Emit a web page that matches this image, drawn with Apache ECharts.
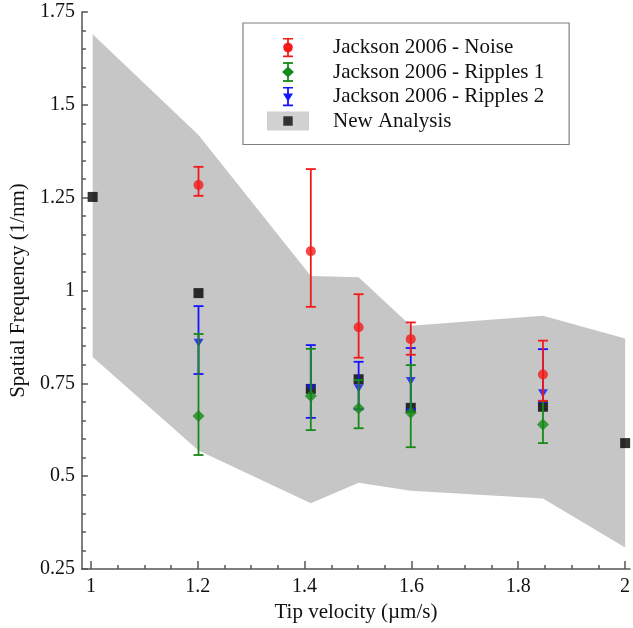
<!DOCTYPE html>
<html>
<head>
<meta charset="utf-8">
<script src="https://cdn.jsdelivr.net/npm/echarts@6/dist/echarts.min.js"></script>
<style>html,body{margin:0;padding:0;background:#fff}#c{width:633px;height:628px}</style>
</head>
<body>
<div id="c"></div>
<script>
// ---- data ----
var jacksonX   = [1.197, 1.406, 1.495, 1.592, 1.838];
var noiseY     = [1.284, 1.106, 0.901, 0.869, 0.774];
var noiseLow   = [1.255, 0.956, 0.819, 0.827, 0.703];
var noiseHigh  = [1.333, 1.327, 0.990, 0.914, 0.865];

var rip1Y      = [0.662, 0.716, 0.683, 0.671, 0.639];
var rip1Low    = [0.557, 0.624, 0.629, 0.578, 0.589];
var rip1High   = [0.883, 0.843, 0.759, 0.799, 0.702];

var rip2Y      = [0.859, 0.737, 0.737, 0.756, 0.723];
var rip2Low    = [0.775, 0.657, 0.680, 0.680, 0.700];
var rip2High   = [0.958, 0.853, 0.808, 0.845, 0.842];

var newX       = [1.0, 1.197, 1.406, 1.495, 1.592, 1.838, 1.991];
var newY       = [1.252, 0.993, 0.735, 0.761, 0.684, 0.687, 0.589];
var bandUpper  = [1.690, 1.419, 1.039, 1.036, 0.905, 0.932, 0.871];
var bandLower  = [0.821, 0.569, 0.427, 0.482, 0.461, 0.440, 0.308];

var seriesNames = ['Jackson 2006 - Noise', 'Jackson 2006 - Ripples 1', 'Jackson 2006 - Ripples 2', 'New Analysis'];
var xTitle = 'Tip velocity (\u00b5m/s)';
var yTitle = 'Spatial Frequency (1/nm)';

// ---- styling ----
var RED = '#f21a1a', GREEN = '#178a17', BLUE = '#1414ff', BAND = '#c6c6c6';
var FONT = '"Liberation Serif", "Times New Roman", serif';
var AX = '#555';

function pairs(xs, ys) { return xs.map(function (x, i) { return [x, ys[i]]; }); }
function triples(xs, lo, hi) { return xs.map(function (x, i) { return [x, lo[i], hi[i]]; }); }

function errRender(color) {
  return function (params, api) {
    var x = api.value(0);
    var top = api.coord([x, api.value(2)]);
    var bot = api.coord([x, api.value(1)]);
    var hw = 5;
    var st = { stroke: color, lineWidth: 1.8 };
    return {
      type: 'group',
      children: [
        { type: 'line', shape: { x1: top[0], y1: top[1], x2: bot[0], y2: bot[1] }, style: st },
        { type: 'line', shape: { x1: top[0] - hw, y1: top[1], x2: top[0] + hw, y2: top[1] }, style: st },
        { type: 'line', shape: { x1: bot[0] - hw, y1: bot[1], x2: bot[0] + hw, y2: bot[1] }, style: st }
      ]
    };
  };
}

// band polygon: drawn once (first item) from all upper then reversed lower points
function bandRender(params, api) {
  if (params.dataIndex !== 0) return null;
  var pts = [];
  for (var i = 0; i < newX.length; i++) pts.push(api.coord([newX[i], bandUpper[i]]));
  for (var j = newX.length - 1; j >= 0; j--) pts.push(api.coord([newX[j], bandLower[j]]));
  return { type: 'polygon', shape: { points: pts }, style: { fill: BAND } };
}

function svgIcon(inner) {
  var s = '<svg xmlns="http://www.w3.org/2000/svg" width="80" height="20" viewBox="0 0 80 20">' + inner + '</svg>';
  return 'image://data:image/svg+xml;charset=utf-8,' + encodeURIComponent(s);
}
function barSvg(color, marker) {
  return '<g stroke="' + color + '" stroke-width="1.8"><line x1="40" y1="1" x2="40" y2="19"/>' +
    '<line x1="35" y1="1" x2="45" y2="1"/><line x1="35" y1="19" x2="45" y2="19"/></g>' + marker;
}
var icons = [
  svgIcon(barSvg(RED, '<circle cx="40" cy="10" r="4.8" fill="' + RED + '"/>')),
  svgIcon(barSvg(GREEN, '<polygon points="40,4.5 46,10 40,15.5 34,10" fill="' + GREEN + '"/>')),
  svgIcon(barSvg(BLUE, '<polygon points="35,7 45,7 40,15" fill="' + BLUE + '"/>')),
  svgIcon('<rect x="19" y="0.5" width="42" height="19" fill="' + BAND + '"/><rect x="35.3" y="5.3" width="9.4" height="9.4" fill="#000"/>')
];

var chart = echarts.init(document.getElementById('c'), null, { renderer: 'canvas' });

var option = {
  animation: false,
  backgroundColor: '#fff',
  grid: [
    { left: 80, right: 3, top: 12, bottom: 59 },
    { left: 91, right: 3, top: 12, bottom: 59 }
  ],
  legend: {
    orient: 'vertical',
    left: 243, top: 23,
    padding: [14, 25, 13, 5],
    itemWidth: 80, itemHeight: 20, itemGap: 3.5,
    borderColor: '#808080', borderWidth: 1.2,
    backgroundColor: '#fff',
    selectedMode: false,
    textStyle: { fontFamily: FONT, fontSize: 21, color: '#111', lineHeight: 20 },
    data: seriesNames.map(function (n, i) { return { name: n, icon: icons[i] }; })
  },
  xAxis: [
    {
      gridIndex: 0, type: 'value', min: 0.98, max: 2,
      axisLine: { show: true, onZero: false, lineStyle: { color: AX, width: 1.5 } },
      axisTick: { show: false }, axisLabel: { show: false }, splitLine: { show: false },
      name: xTitle, nameLocation: 'middle', nameGap: 33,
      nameTextStyle: { fontFamily: FONT, fontSize: 21, color: '#111' }
    },
    {
      gridIndex: 1, type: 'value', min: 1, max: 2, interval: 0.2,
      axisLine: { show: false, onZero: false },
      axisTick: { show: true, inside: true, length: 8, lineStyle: { color: AX, width: 1.5 } },
      minorTick: { show: true, splitNumber: 4, length: 4, lineStyle: { color: AX, width: 1.5 } },
      axisLabel: { margin: 8, fontFamily: FONT, fontSize: 20, color: '#111' },
      splitLine: { show: false }
    }
  ],
  yAxis: [
    {
      gridIndex: 0, type: 'value', min: 0.25, max: 1.75, interval: 0.25,
      axisLine: { show: true, onZero: false, lineStyle: { color: AX, width: 1.5 } },
      axisTick: { show: true, inside: true, length: 6, lineStyle: { color: AX, width: 1.5 } },
      minorTick: { show: true, splitNumber: 5, length: 4, lineStyle: { color: AX, width: 1.5 } },
      axisLabel: { margin: 7, fontFamily: FONT, fontSize: 20, color: '#111' },
      splitLine: { show: false },
      name: yTitle, nameLocation: 'middle', nameGap: 47,
      nameTextStyle: { fontFamily: FONT, fontSize: 21, color: '#111' }
    },
    {
      gridIndex: 1, type: 'value', min: 0.25, max: 1.75, show: false
    }
  ],
  series: [
    {
      name: 'band', type: 'custom', xAxisIndex: 0, yAxisIndex: 0,
      data: triples(newX, bandLower, bandUpper), encode: { x: 0, y: [1, 2] },
      renderItem: bandRender, silent: true, z: 1
    },
    {
      name: seriesNames[3], type: 'scatter', xAxisIndex: 0, yAxisIndex: 0,
      data: pairs(newX, newY), symbol: 'rect', symbolSize: 10, clip: false,
      itemStyle: { color: '#000' }, z: 2
    },
    {
      name: seriesNames[2], type: 'custom', xAxisIndex: 0, yAxisIndex: 0,
      data: triples(jacksonX, rip2Low, rip2High), encode: { x: 0, y: [1, 2] },
      renderItem: errRender(BLUE), itemStyle: { color: BLUE }, z: 3
    },
    {
      name: seriesNames[2], type: 'scatter', xAxisIndex: 0, yAxisIndex: 0,
      data: pairs(jacksonX, rip2Y), symbol: 'triangle', symbolRotate: 180, symbolSize: [10, 8],
      itemStyle: { color: BLUE }, z: 3
    },
    {
      name: seriesNames[1], type: 'custom', xAxisIndex: 0, yAxisIndex: 0,
      data: triples(jacksonX, rip1Low, rip1High), encode: { x: 0, y: [1, 2] },
      renderItem: errRender(GREEN), itemStyle: { color: GREEN }, z: 4
    },
    {
      name: seriesNames[1], type: 'scatter', xAxisIndex: 0, yAxisIndex: 0,
      data: pairs(jacksonX, rip1Y), symbol: 'diamond', symbolSize: [12, 12],
      itemStyle: { color: GREEN }, z: 4
    },
    {
      name: seriesNames[0], type: 'custom', xAxisIndex: 0, yAxisIndex: 0,
      data: triples(jacksonX, noiseLow, noiseHigh), encode: { x: 0, y: [1, 2] },
      renderItem: errRender(RED), itemStyle: { color: RED }, z: 5
    },
    {
      name: seriesNames[0], type: 'scatter', xAxisIndex: 0, yAxisIndex: 0,
      data: pairs(jacksonX, noiseY), symbol: 'circle', symbolSize: 10,
      itemStyle: { color: RED }, z: 5
    }
  ]
};
chart.setOption(option);
</script>
</body>
</html>
